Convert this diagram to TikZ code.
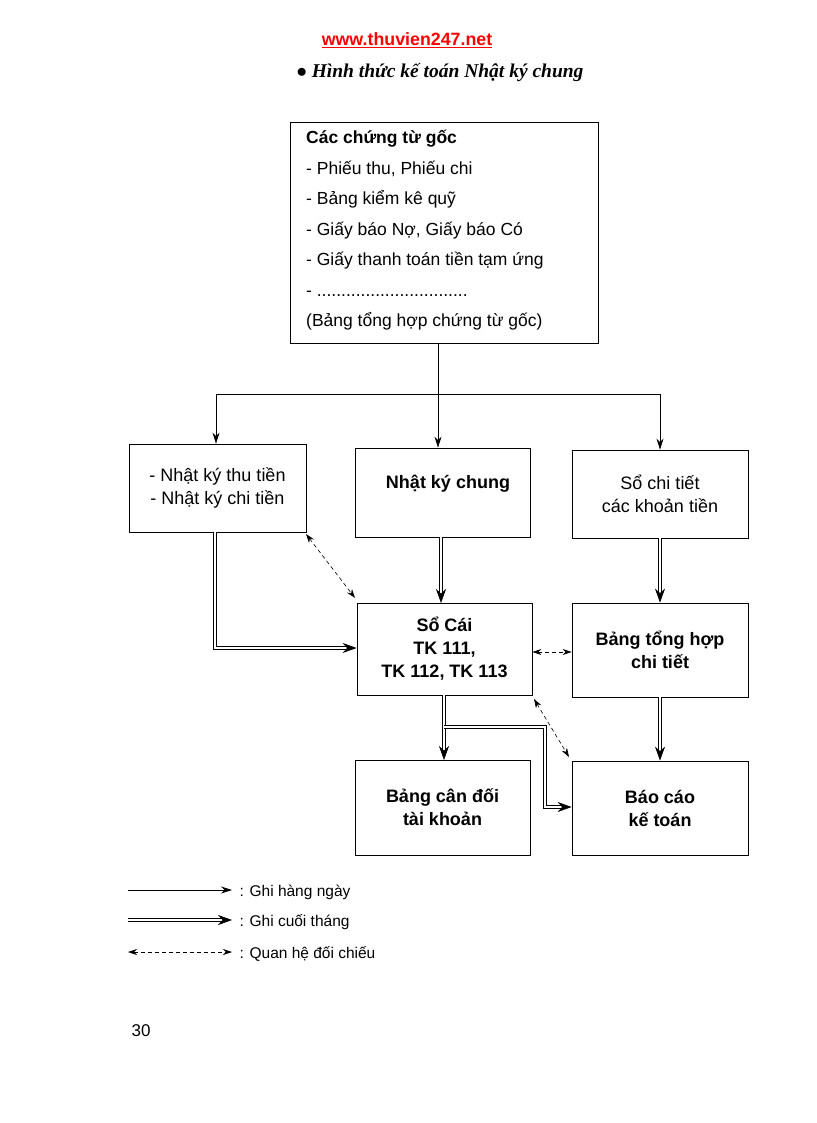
\documentclass[tikz,border=0pt]{standalone}
\usepackage{fontspec}
\setmainfont{Liberation Sans}
\newfontfamily\serifit{Liberation Serif}
\usetikzlibrary{arrows.meta}
\begin{document}
\begin{tikzpicture}[x=1pt,y=-1pt,
  box/.style={draw,line width=0.8pt,inner sep=0pt,align=center,font=\fontsize{18}{23}\selectfont},
  bbox/.style={box,font=\bfseries\fontsize{18}{23}\selectfont},
  one/.style={line width=0.7pt,-{Stealth[length=11pt,width=7pt]}},
  two/.style={double,double distance=2pt,line width=0.6pt,-{Stealth[length=14pt,width=10pt]}},
  dsh/.style={dash pattern=on 4pt off 3pt,line width=0.6pt,{Stealth[length=9pt,width=6pt]}-{Stealth[length=9pt,width=6pt]}},
  lg/.style={anchor=west,font=\fontsize{15.5}{18}\selectfont}]
\useasboundingbox (0,0) rectangle (816,1123);
\node[font=\bfseries\fontsize{17.8}{20}\selectfont,text=red] (web) at (407,40) {\underline{www.thuvien247.net}};
\node[font=\serifit\bfseries\itshape\fontsize{19.5}{22}\selectfont] (title) at (440,73) {$\bullet$ Hình thức kế toán Nhật ký chung};
\node[box,minimum width=308pt,minimum height=221pt] (top) at (444,232.5) {};
\node[anchor=north west,align=left,inner sep=0pt,font=\fontsize{17.5}{30.5}\selectfont] (toptext) at (306,130) {\textbf{Các chứng từ gốc}\\
- Phiếu thu, Phiếu chi\\
- Bảng kiểm kê quỹ\\
- Giấy báo Nợ, Giấy báo Có\\
- Giấy thanh toán tiền tạm ứng\\
- ...............................\\
(Bảng tổng hợp chứng từ gốc)};
\node[box,minimum width=177pt,minimum height=88pt] (nk) at (217.5,488) {- Nhật ký thu tiền\\- Nhật ký chi tiền};
\node[box,minimum width=175pt,minimum height=89pt] (nkc) at (442.5,492.5) {};
\node[font=\bfseries\fontsize{18}{23}\selectfont] (nkct) at (448,484) {Nhật ký chung};
\node[box,minimum width=176pt,minimum height=88pt] (sct) at (660,494) {Sổ chi tiết\\các khoản tiền};
\node[bbox,minimum width=175pt,minimum height=92pt] (sc) at (444.5,649) {Sổ Cái\\TK 111,\\TK 112, TK 113};
\node[bbox,minimum width=176pt,minimum height=94pt] (bth) at (660,650) {Bảng tổng hợp\\chi tiết};
\node[bbox,minimum width=175pt,minimum height=95pt] (bcd) at (442.5,807.5) {Bảng cân đối\\tài khoản};
\node[bbox,minimum width=176pt,minimum height=94pt] (bck) at (660,808) {Báo cáo\\kế toán};
% daily
\coordinate (j) at (438,394);
\draw[line width=0.7pt] (top.south -| j) -- (j);
\draw[line width=0.7pt] (216,394) -- (660,394);
\draw[one] (216,394) -- (216,394 |- nk.north);
\draw[one] (j) -- (j |- nkc.north);
\draw[one] (660,394) -- (660,394 |- sct.north);
% monthly
\draw[two] (215,532) |- (sc.west |- 0,648);
\draw[two] (441,537) -- (441,603);
\draw[two] (sct.south) -- (bth.north);
\draw[two] (bth.south) -- (bck.north);
\draw[two] (444,695) -- (444,760);
\draw[two] (444,727) -- (545,727) |- (bck.west |- 0,807);
% compare
\draw[dsh] (306,534) -- (355,598);
\draw[dsh] (sc.east |- 0,652) -- (bth.west |- 0,652);
\draw[dsh] (534,699) -- (569,757);
% legend
\coordinate (l1) at (128,890); \coordinate (l2) at (128,920); \coordinate (l3) at (128,952);
\draw[one] (l1) -- ++(104,0);
\draw[two] (l2) -- ++(104,0);
\draw[dsh] (l3) -- ++(104,0);
\node[lg] (t1) at (236,892) {: Ghi hàng ngày};
\node[lg] (t2) at (236,922) {: Ghi cuối tháng};
\node[lg] (t3) at (236,954) {: Quan hệ đối chiếu};
\node[font=\fontsize{17}{20}\selectfont] (pg) at (141,1031) {30};
\end{tikzpicture}
\end{document}
